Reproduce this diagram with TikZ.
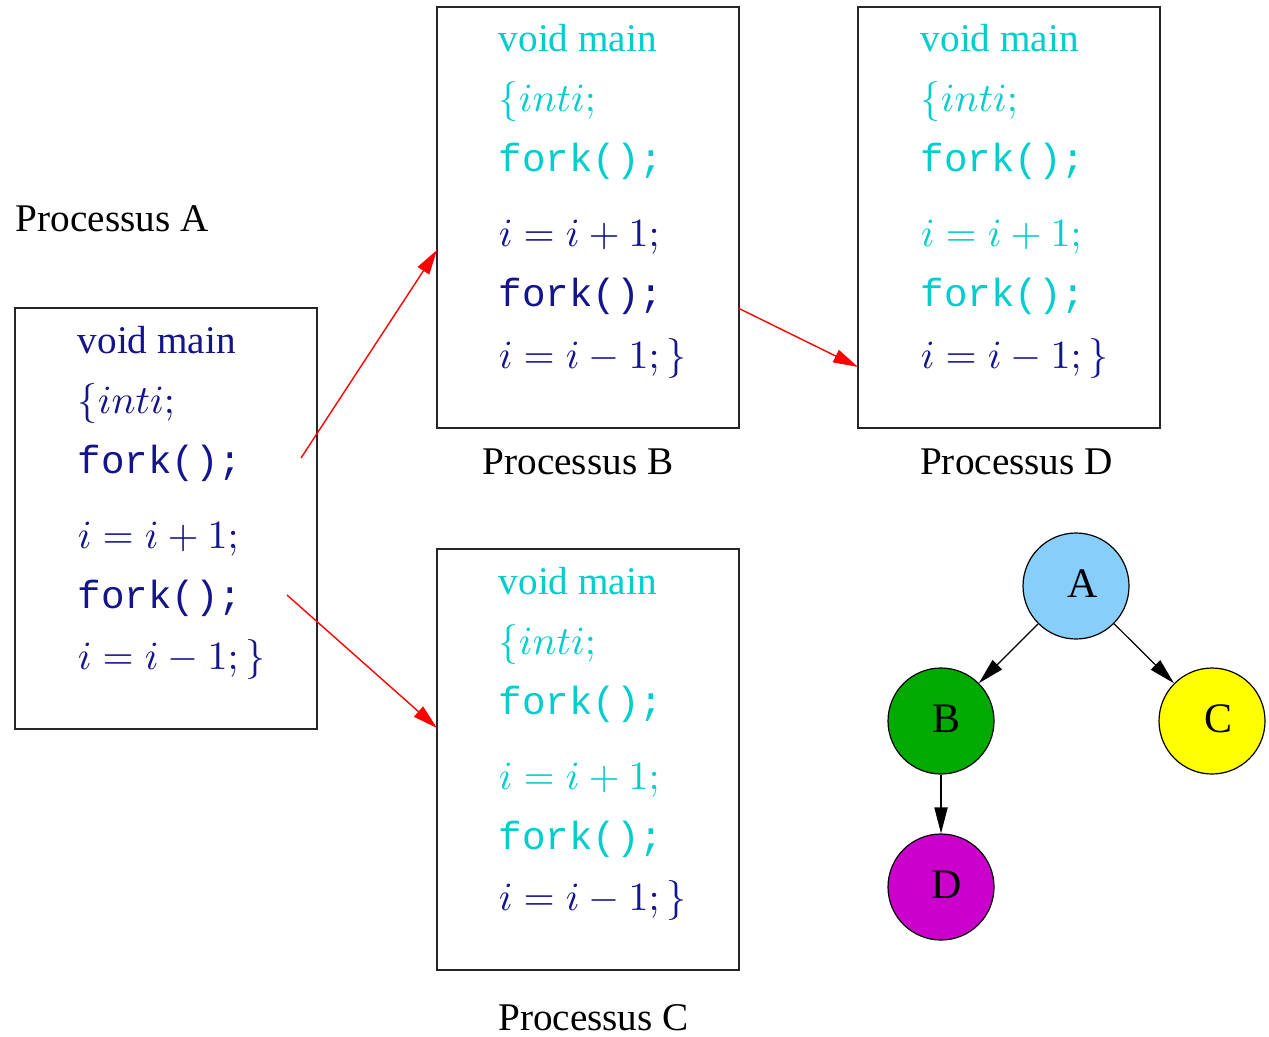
\documentclass[tikz,border=0pt]{standalone}
\usepackage{fontspec}
\setmainfont{Liberation Serif}
\setmonofont{Liberation Mono}
\usetikzlibrary{arrows.meta}
\definecolor{codeblue}{RGB}{20,20,140}
\definecolor{codecyan}{RGB}{0,205,205}
\definecolor{nodeA}{RGB}{135,206,250}
\definecolor{nodeB}{RGB}{0,170,0}
\definecolor{nodeC}{RGB}{255,255,0}
\definecolor{nodeD}{RGB}{204,0,204}
\begin{document}
\begin{tikzpicture}[x=0.25pt,y=-0.25pt,
 codebox/.style={draw=black!85, line width=0.5pt, minimum width=75.5pt, minimum height=105.25pt, inner sep=0pt},
 codeline/.style={anchor=base west, inner sep=0pt, font=\fontsize{9.8}{12}\selectfont},
 dk/.style={codeline,text=codeblue},
 cy/.style={codeline,text=codecyan},
 ptitle/.style={anchor=base, inner sep=0pt, font=\fontsize{9.8}{12}\selectfont},
 redarrow/.style={draw=red, line width=0.35pt, -{Triangle[length=6.2pt,width=3.4pt]}},
 gnode/.style={circle, draw, line width=0.3pt, minimum size=26.5pt, inner sep=0pt, font=\fontsize{10.5}{12}\selectfont},
 garrow/.style={line width=0.3pt, -{Triangle[length=6.5pt,width=3.3pt]}}
]
\useasboundingbox (0,0) rectangle (1269,1036);

% boxes
\node[codebox] (boxA) at (166,518.5) {};
\node[codebox] (boxB) at (587.5,217.5) {};
\node[codebox] (boxD) at (1008.5,217.5) {};
\node[codebox] (boxC) at (587.5,759.5) {};

% titles
\node[ptitle, anchor=base west] (tA) at (15,232) {Processus A};
\node[ptitle] (tB) at (578,474) {Processus B};
\node[ptitle] (tD) at (1016.5,474) {Processus D};
\node[ptitle] (tC) at (593.5,1030) {Processus C};

% box A
\node[dk] (a1) at (77,353) {void main};
\node[dk] (a2) at (77,413) {$\{int i;$};
\node[dk] (a3) at (77,473) {\texttt{fork();}};
\node[dk] (a4) at (77,548) {$i=i+1;$};
\node[dk] (a5) at (77,608) {\texttt{fork();}};
\node[dk] (a6) at (77,669) {$i=i-1;\}$};

% box B
\node[cy] (b1) at (498,52) {void main};
\node[cy] (b2) at (498,112) {$\{int i;$};
\node[cy] (b3) at (498,172) {\texttt{fork();}};
\node[dk] (b4) at (498,247) {$i=i+1;$};
\node[dk] (b5) at (498,307) {\texttt{fork();}};
\node[dk] (b6) at (498,368) {$i=i-1;\}$};

% box D
\node[cy] (d1) at (920,52) {void main};
\node[cy] (d2) at (920,112) {$\{int i;$};
\node[cy] (d3) at (920,172) {\texttt{fork();}};
\node[cy] (d4) at (920,247) {$i=i+1;$};
\node[cy] (d5) at (920,307) {\texttt{fork();}};
\node[dk] (d6) at (920,368) {$i=i-1;\}$};

% box C
\node[cy] (c1) at (498,594) {void main};
\node[cy] (c2) at (498,654) {$\{int i;$};
\node[cy] (c3) at (498,714) {\texttt{fork();}};
\node[cy] (c4) at (498,789) {$i=i+1;$};
\node[cy] (c5) at (498,849) {\texttt{fork();}};
\node[dk] (c6) at (498,910) {$i=i-1;\}$};

% red arrows
\coordinate (r1s) at (301,458);
\coordinate (r1e) at (437,250);
\coordinate (r2s) at (287,595);
\coordinate (r2e) at (437,728);
\coordinate (r3s) at (738,308);
\coordinate (r3e) at (858,367);
\draw[redarrow] (r1s) -- (r1e);
\draw[redarrow] (r2s) -- (r2e);
\draw[redarrow] (r3s) -- (r3e);

% process tree
\node[gnode, fill=nodeA] (gA) at (1076,586) {\hspace*{3.2pt}\raisebox{1pt}{A}};
\node[gnode, fill=nodeB] (gB) at (941,721) {\hspace*{2.5pt}\raisebox{1pt}{B}};
\node[gnode, fill=nodeC] (gC) at (1212,721) {\hspace*{3pt}\raisebox{1pt}{C}};
\node[gnode, fill=nodeD] (gD) at (941,887) {\hspace*{3pt}\raisebox{1pt}{D}};
\draw[garrow] (gA) -- (gB);
\draw[garrow] (gA) -- (gC);
\draw[garrow] (gB) -- (gD);
\end{tikzpicture}
\end{document}
